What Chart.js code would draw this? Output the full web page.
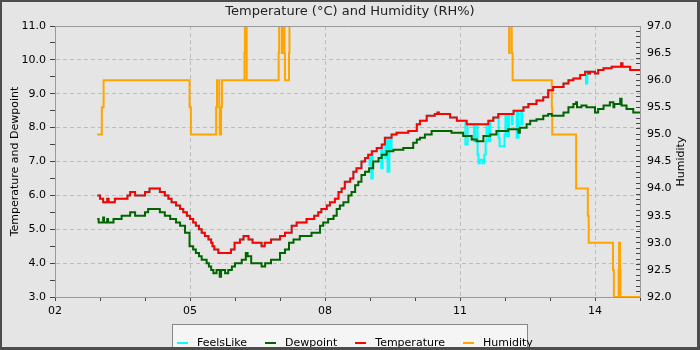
<!DOCTYPE html>
<html>
<head>
<meta charset="utf-8">
<title>Temperature (°C) and Humidity (RH%)</title>
<script src="https://cdn.jsdelivr.net/npm/chart.js@4"></script>
<style>
  body { margin: 0; background: #e5e5e5; }
  #wrap { position: relative; width: 700px; height: 350px; background: #e5e5e5; font-family: "DejaVu Sans", sans-serif; }
  #frame { position: absolute; left: 0; top: 0; width: 700px; height: 350px; box-sizing: border-box;
           border: solid #4d4d4d; border-width: 2px 3px 3px 2px; pointer-events: none; }
  #legend { position: absolute; left: 172px; top: 324px; width: 356px; height: 30px; box-sizing: border-box;
            background: #f5f5f5; border: 1px solid #888; font-size: 11px; line-height: 13px; color: #000;
            padding: 6px 0 0 4px; display: flex; }
  #legend .item { display: inline-flex; align-items: center; margin-right: 18px; }
  #legend .mark { display: inline-block; width: 11px; height: 2px; margin-right: 9px; position: relative; top: 1px; }
</style>
</head>
<body>
<div id="wrap">
  <canvas id="chart" width="700" height="350"></canvas>
  <div id="legend"></div>
  <div id="frame"></div>
</div>
<script>
// hours of day (decimal), each value holds until the next time
const tempTimes = [2.94, 3.0, 3.07, 3.16, 3.19, 3.33, 3.61, 3.67, 3.78, 4.0, 4.10, 4.33, 4.44, 4.52, 4.59, 4.69, 4.78, 4.85, 4.93,
  5.0, 5.07, 5.13, 5.20, 5.26, 5.33, 5.41, 5.47, 5.50, 5.54, 5.63, 5.91, 5.99, 6.11, 6.19, 6.30, 6.39, 6.59, 6.66, 6.80,
  7.0, 7.11, 7.26, 7.37, 7.59, 7.76, 7.85, 7.92, 8.04, 8.11, 8.22, 8.30, 8.37, 8.44, 8.56, 8.63, 8.70, 8.81, 8.89, 8.96,
  9.04, 9.15, 9.26, 9.33, 9.48, 9.59, 9.85, 10.04, 10.11, 10.26, 10.44, 10.50, 10.53, 10.78, 10.93, 11.15, 11.63, 11.74,
  11.85, 12.19, 12.41, 12.52, 12.70, 12.85, 12.96, 13.07, 13.30, 13.41, 13.52, 13.67, 13.78, 13.85, 13.89, 14.0, 14.07,
  14.19, 14.37, 14.58, 14.61, 14.78, 15.0];
const temperature = [6.0, 5.9, 5.8, 5.9, 5.8, 5.9, 6.0, 6.1, 6.0, 6.1, 6.2, 6.1, 6.0, 5.9, 5.8, 5.7, 5.6, 5.5, 5.4,
  5.3, 5.2, 5.1, 5.0, 4.9, 4.8, 4.7, 4.6, 4.5, 4.4, 4.3, 4.4, 4.6, 4.7, 4.8, 4.7, 4.6, 4.5, 4.6, 4.7,
  4.8, 4.9, 5.1, 5.2, 5.3, 5.4, 5.5, 5.6, 5.7, 5.8, 5.9, 6.1, 6.2, 6.4, 6.5, 6.7, 6.8, 7.0, 7.1, 7.2,
  7.3, 7.4, 7.5, 7.7, 7.8, 7.85, 7.9, 8.1, 8.2, 8.35, 8.4, 8.45, 8.4, 8.3, 8.2, 8.1, 8.2, 8.3,
  8.4, 8.5, 8.6, 8.7, 8.8, 8.9, 9.1, 9.2, 9.3, 9.4, 9.45, 9.55, 9.65, 9.6, 9.65, 9.6, 9.7,
  9.75, 9.8, 9.9, 9.8, 9.7, 9.7];

const feelsTimes = [2.94, 3.0, 3.07, 3.16, 3.19, 3.33, 3.61, 3.67, 3.78, 4.0, 4.10, 4.33, 4.44, 4.52, 4.59, 4.69, 4.78, 4.85, 4.93,
  5.0, 5.07, 5.13, 5.20, 5.26, 5.33, 5.41, 5.47, 5.50, 5.54, 5.63, 5.91, 5.99, 6.11, 6.19, 6.30, 6.39, 6.59, 6.66, 6.80,
  7.0, 7.11, 7.26, 7.37, 7.59, 7.76, 7.85, 7.92, 8.04, 8.11, 8.22, 8.30, 8.37, 8.44, 8.56, 8.63, 8.70, 8.81, 8.89, 8.96,
  8.99, 9.01, 9.03, 9.06, 9.15, 9.25, 9.28, 9.33, 9.34, 9.36, 9.39, 9.43, 9.46, 9.48, 9.59, 9.85, 10.04, 10.11, 10.26,
  10.44, 10.50, 10.53, 10.78, 10.93, 11.12, 11.17, 11.31, 11.34, 11.39, 11.41, 11.44, 11.50, 11.54, 11.57, 11.59, 11.63,
  11.64, 11.67, 11.74, 11.85, 11.86, 11.88, 11.96, 11.99, 12.01, 12.05, 12.09, 12.15, 12.17, 12.19, 12.26, 12.30, 12.36,
  12.38, 12.41, 12.52, 12.70, 12.85, 12.96, 13.07, 13.30, 13.41, 13.52, 13.67, 13.78, 13.80, 13.83, 13.85, 13.89, 14.0,
  14.07, 14.19, 14.37, 14.58, 14.61, 14.78, 15.0];
const feelsLike = [6.0, 5.9, 5.8, 5.9, 5.8, 5.9, 6.0, 6.1, 6.0, 6.1, 6.2, 6.1, 6.0, 5.9, 5.8, 5.7, 5.6, 5.5, 5.4,
  5.3, 5.2, 5.1, 5.0, 4.9, 4.8, 4.7, 4.6, 4.5, 4.4, 4.3, 4.4, 4.6, 4.7, 4.8, 4.7, 4.6, 4.5, 4.6, 4.7,
  4.8, 4.9, 5.1, 5.2, 5.3, 5.4, 5.5, 5.6, 5.7, 5.8, 5.9, 6.1, 6.2, 6.4, 6.5, 6.7, 6.8, 7.0, 7.1, 7.2,
  6.9, 7.2, 6.5, 7.3, 7.4, 6.8, 7.5, 7.7, 7.1, 7.7, 6.7, 7.7, 7.35, 7.8, 7.85, 7.9, 8.1, 8.2, 8.35,
  8.4, 8.45, 8.4, 8.3, 8.2, 7.5, 8.1, 7.6, 8.1, 7.2, 6.95, 7.05, 6.95, 7.2, 7.6, 8.1, 8.2,
  7.6, 8.2, 8.3, 8.4, 7.7, 7.45, 7.45, 7.8, 8.4, 7.75, 8.4, 8.1, 8.4, 8.5, 7.7, 8.5, 8.1,
  8.5, 8.6, 8.7, 8.8, 8.9, 9.1, 9.2, 9.3, 9.4, 9.45, 9.55, 9.65, 9.3, 9.65, 9.6, 9.65, 9.6,
  9.7, 9.75, 9.8, 9.9, 9.8, 9.7, 9.7];

const dewTimes = [2.94, 2.97, 3.07, 3.09, 3.16, 3.18, 3.30, 3.48, 3.67, 3.78, 4.0, 4.07, 4.33, 4.44, 4.56, 4.69, 4.78, 4.89,
  4.99, 5.07, 5.13, 5.20, 5.26, 5.37, 5.42, 5.47, 5.52, 5.59, 5.66, 5.69, 5.78, 5.85, 5.93, 6.0, 6.15, 6.24, 6.28, 6.36,
  6.59, 6.67, 6.80, 7.0, 7.11, 7.2, 7.3, 7.44, 7.7, 7.89, 7.96, 8.07, 8.19, 8.26, 8.33, 8.41, 8.52, 8.59, 8.67, 8.74,
  8.81, 8.89, 8.98, 9.07, 9.19, 9.26, 9.37, 9.52, 9.74, 9.96, 10.04, 10.11, 10.22, 10.37, 10.81, 11.07, 11.26, 11.37,
  11.52, 11.67, 11.81, 12.07, 12.30, 12.33, 12.48, 12.56, 12.70, 12.85, 12.96, 13.04, 13.30, 13.41, 13.52, 13.58, 13.60,
  13.70, 13.81, 14.0, 14.07, 14.19, 14.33, 14.41, 14.43, 14.56, 14.59, 14.70, 14.85, 15.0];
const dewpoint = [5.3, 5.2, 5.35, 5.2, 5.3, 5.2, 5.3, 5.4, 5.5, 5.4, 5.5, 5.6, 5.5, 5.4, 5.3, 5.2, 5.1, 4.9,
  4.5, 4.4, 4.3, 4.2, 4.1, 4.0, 3.9, 3.8, 3.7, 3.8, 3.6, 3.8, 3.7, 3.8, 3.9, 4.0, 4.1, 4.3, 4.2, 4.0,
  3.9, 4.0, 4.1, 4.3, 4.4, 4.6, 4.7, 4.8, 4.9, 5.1, 5.2, 5.3, 5.4, 5.6, 5.7, 5.8, 6.0, 6.1, 6.3, 6.4,
  6.6, 6.7, 6.8, 7.0, 7.1, 7.2, 7.3, 7.35, 7.4, 7.55, 7.65, 7.7, 7.8, 7.9, 7.85, 7.75, 7.65, 7.6,
  7.75, 7.8, 7.9, 7.95, 7.85, 8.0, 8.1, 8.2, 8.25, 8.35, 8.4, 8.35, 8.45, 8.6, 8.7, 8.75, 8.6,
  8.65, 8.6, 8.45, 8.55, 8.65, 8.75, 8.6, 8.7, 8.85, 8.65, 8.55, 8.45, 8.45];

const humTimes = [2.94, 3.04, 3.08, 4.99, 5.02, 5.58, 5.60, 5.65, 5.66, 5.69, 5.71, 6.21, 6.22, 6.26, 6.97, 6.98, 7.04,
  7.06, 7.10, 7.11, 7.20, 7.21, 12.09, 12.10, 12.15, 12.17, 13.04, 13.05, 13.58, 13.84, 13.86, 14.40, 14.42, 14.525,
  14.535, 14.555, 14.565, 15.0];
const humidity = [95.0, 95.5, 96.0, 95.5, 95.0, 95.5, 96.0, 95.5, 95.0, 95.5, 96.0, 96.5, 97.5, 96.0, 96.5, 97.5, 96.5,
  97.5, 96.5, 96.0, 96.5, 97.5, 96.5, 97.5, 96.5, 96.0, 95.5, 95.0, 94.0, 93.5, 93.0, 92.5, 92.0, 92.5,
  93.0, 92.5, 92.0, 92.0];

const hourTicks = [2, 5, 8, 11, 14];
const hourLabels = ['02', '05', '08', '11', '14'];

const seriesNames = ['FeelsLike', 'Dewpoint', 'Temperature', 'Humidity'];
const seriesColors = ['#00ffff', '#006400', '#ff0000', '#ffa500'];

function pts(times, values) {
  return times.map((t, i) => ({ x: t, y: values[i] }));
}

const font = { family: 'DejaVu Sans', size: 11 };
const gridCol = '#bdbdbd';
const clear = 'rgba(0,0,0,0)';

// top edge of the plot box and the right-hand axis title
const extras = {
  id: 'extras',
  afterDraw(chart) {
    const { ctx, chartArea } = chart;
    ctx.save();
    ctx.strokeStyle = '#999';
    ctx.lineWidth = 1;
    ctx.beginPath();
    ctx.moveTo(chartArea.left, chartArea.top + 0.5);
    ctx.lineTo(chartArea.right, chartArea.top + 0.5);
    ctx.stroke();
    ctx.translate(681, (chartArea.top + chartArea.bottom) / 2);
    ctx.rotate(-Math.PI / 2);
    ctx.font = '11px "DejaVu Sans"';
    ctx.fillStyle = '#000';
    ctx.textAlign = 'center';
    ctx.textBaseline = 'middle';
    ctx.fillText('Humidity', 0, 0);
    ctx.restore();
  }
};

const series = [pts(feelsTimes, feelsLike), pts(dewTimes, dewpoint), pts(tempTimes, temperature), pts(humTimes, humidity)];
const drawOrder = [3, 2, 1, 4];

new Chart(document.getElementById('chart'), {
  type: 'line',
  data: {
    datasets: series.map((d, i) => ({
      label: seriesNames[i],
      data: d,
      borderColor: seriesColors[i],
      backgroundColor: seriesColors[i],
      borderWidth: 2,
      pointRadius: 0,
      stepped: true,
      order: drawOrder[i],
      yAxisID: i === 3 ? 'yh' : 'y'
    }))
  },
  options: {
    responsive: false,
    animation: false,
    events: [],
    layout: { padding: 0 },
    plugins: {
      legend: { display: false },
      tooltip: { enabled: false },
      title: {
        display: true,
        text: 'Temperature (°C) and Humidity (RH%)',
        color: '#222',
        font: { family: 'DejaVu Sans', size: 13, weight: 'normal', lineHeight: '16px' },
        padding: { top: 4, bottom: 6 }
      }
    },
    scales: {
      x: {
        type: 'linear',
        min: 2,
        max: 15,
        afterFit: s => { s.height = 53; },
        ticks: {
          stepSize: 1, autoSkip: false, maxRotation: 0, padding: 4, font, color: '#000',
          callback: v => { const i = hourTicks.indexOf(v); return i >= 0 ? hourLabels[i] : ''; }
        },
        grid: {
          color: c => hourTicks.includes(c.tick && c.tick.value) ? gridCol : clear,
          tickColor: '#444', tickLength: 4
        },
        border: { color: '#999', dash: [4, 3] }
      },
      y: {
        position: 'left',
        min: 3,
        max: 11,
        afterFit: s => { s.width = 55; },
        ticks: {
          stepSize: 0.5, autoSkip: false, padding: 4, font, color: '#000',
          callback: v => Number.isInteger(v) ? v.toFixed(1) : ''
        },
        grid: {
          color: c => (c.tick && Number.isInteger(c.tick.value)) ? gridCol : clear,
          tickColor: '#444', tickLength: 5
        },
        border: { color: '#999', dash: [4, 3] },
        title: {
          display: true, text: 'Temperature and Dewpoint', color: '#000', font,
          padding: { top: 9, bottom: 0 }
        }
      },
      yh: {
        position: 'right',
        min: 92,
        max: 97,
        afterFit: s => { s.width = 60; },
        ticks: {
          stepSize: 0.1, autoSkip: false, padding: 11, font, color: '#000',
          callback: v => Math.abs(v * 2 - Math.round(v * 2)) < 1e-6 ? v.toFixed(1) : ''
        },
        grid: { drawOnChartArea: false, tickColor: '#444', tickLength: -4 },
        border: { color: '#999' }
      }
    }
  },
  plugins: [extras]
});

// legend
const legend = document.getElementById('legend');
seriesNames.forEach((name, i) => {
  const item = document.createElement('span');
  item.className = 'item';
  const mark = document.createElement('span');
  mark.className = 'mark';
  mark.style.background = seriesColors[i];
  item.appendChild(mark);
  item.appendChild(document.createTextNode(name));
  legend.appendChild(item);
});
</script>
</body>
</html>
